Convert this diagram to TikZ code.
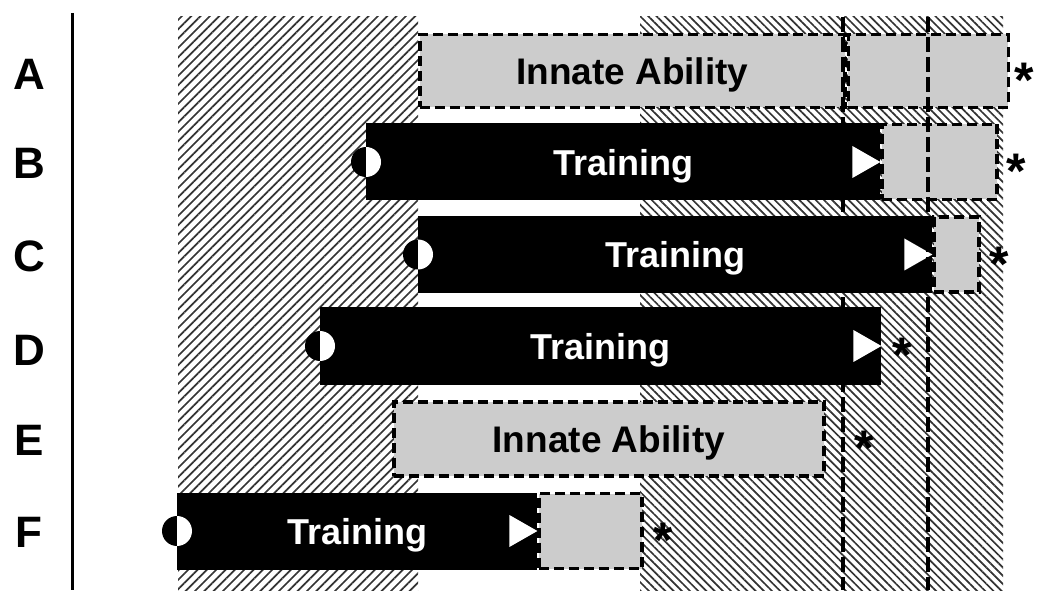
\documentclass[tikz,border=0pt]{standalone}
\usepackage{fontspec}
\setmainfont{Liberation Sans}
\usetikzlibrary{positioning,patterns.meta,backgrounds}

\tikzset{
  trainbar/.style={fill=black, text=white, font=\fontsize{36}{40}\selectfont\bfseries,
    inner sep=0pt, text depth=0pt, minimum height=77pt, anchor=west},
  innatebox/.style={fill=gray!40, draw=black, line width=3.6pt, dash pattern=on 10pt off 5pt,
    font=\fontsize{37}{40}\selectfont\bfseries, inner sep=0pt, text depth=0pt, minimum height=74pt, anchor=west},
  rowlabel/.style={font=\fontsize{44}{44}\selectfont\bfseries, inner sep=0pt},
  astx/.style={font=\fontsize{50}{50}\selectfont\bfseries, inner sep=0pt, yshift=-9.5pt},
  halo/.style={fill=white},
  cutline/.style={line width=3.2pt, dash pattern=on 15pt off 5pt},
  leftlines/.style={pattern={Lines[angle=45,distance=6.6pt,line width=1.7pt]}, pattern color=black!80},
  rightlines/.style={pattern={Lines[angle=-45,distance=5.8pt,line width=1.7pt]}, pattern color=black!80},
}

\begin{document}
\begin{tikzpicture}[x=1pt,y=1pt]
  \useasboundingbox (0,0) rectangle (1037,590);

  % Hatched areas
  \fill[leftlines] (178,0) rectangle (418,573);
  \fill[rightlines] (640,0) rectangle (1003,573);

  % Axis
  \coordinate (axTop) at (72,577);
  \coordinate (axBot) at (72,0);
  \draw[line width=3pt] (axTop) -- (axBot);

  % Labels
  \node[rowlabel] (labA) at (29,516) {A};
  \node[rowlabel] (labB) at (29,427) {B};
  \node[rowlabel] (labC) at (29,334) {C};
  \node[rowlabel] (labD) at (29,240) {D};
  \node[rowlabel] (labE) at (29,150) {E};
  \node[rowlabel] (labF) at (29,58) {F};

  %%%%%%%%%%%%%%%%%%%%%%%%%%
  % Row A
  \node[innatebox, minimum width=425pt, minimum height=73pt] (innA) at (418,519) {Innate Ability};
  \node[innatebox, minimum width=160pt, minimum height=73pt] (extA) at (innA.east) {};
  \node[astx, right=4pt of extA] (astA) {*};

  %%%%%%%%%%%%%%%%%%%%%%%%%%
  % Row B
  \node[trainbar, minimum width=514pt] (trnB) at (366,428) {Training};
  \node[innatebox, minimum width=115pt, minimum height=75pt] (extB) at (trnB.east) {};
  \fill[black] (trnB.west) ++(0,15) arc[start angle=90, end angle=270, radius=15] -- cycle;
  \fill[white] (trnB.west) ++(0,-15) arc[start angle=-90, end angle=90, radius=15] -- cycle;
  \fill[white] (trnB.east) -- ++(-28,16) -- ++(0,-32) -- cycle;
  \node[astx, right=7pt of extB] (astB) {*};

  %%%%%%%%%%%%%%%%%%%%%%%%%%
  % Row C
  \node[trainbar, minimum width=514pt] (trnC) at (418,335.5) {Training};
  \node[innatebox, minimum width=45pt, minimum height=75pt] (extC) at (trnC.east) {};
  \fill[black] (trnC.west) ++(0,15) arc[start angle=90, end angle=270, radius=15] -- cycle;
  \fill[white] (trnC.west) ++(0,-15) arc[start angle=-90, end angle=90, radius=15] -- cycle;
  \fill[white] (trnC.east) -- ++(-28,16) -- ++(0,-32) -- cycle;
  \node[astx, right=8pt of extC] (astC) {*};

  %%%%%%%%%%%%%%%%%%%%%%%%%%
  % Row D
  \node[trainbar, minimum width=561pt, minimum height=78pt] (trnD) at (320,244) {Training};
  \fill[black] (trnD.west) ++(0,15) arc[start angle=90, end angle=270, radius=15] -- cycle;
  \fill[white] (trnD.west) ++(0,-15) arc[start angle=-90, end angle=90, radius=15] -- cycle;
  \fill[white] (trnD.east) -- ++(-28,16) -- ++(0,-32) -- cycle;
  \node[astx, right=11pt of trnD] (astD) {*};

  %%%%%%%%%%%%%%%%%%%%%%%%%%
  % Row E
  \node[innatebox, minimum width=430pt] (innE) at (392,151) {Innate Ability};
  \node[astx, right=29pt of innE] (astE) {*};

  %%%%%%%%%%%%%%%%%%%%%%%%%%
  % Row F
  \node[trainbar, minimum width=360pt] (trnF) at (177,59) {Training};
  \node[innatebox, minimum width=103pt, minimum height=75pt] (extF) at (trnF.east) {};
  \fill[black] (trnF.west) ++(0,15) arc[start angle=90, end angle=270, radius=15] -- cycle;
  \fill[white] (trnF.west) ++(0,-15) arc[start angle=-90, end angle=90, radius=15] -- cycle;
  \fill[white] (trnF.east) -- ++(-28,16) -- ++(0,-32) -- cycle;
  \node[astx, right=9pt of extF] (astF) {*};

  % White margins round the bars
  \begin{scope}[on background layer]
    \fill[halo] ([shift={(-4,4)}]innA.north west) rectangle ([shift={(4,-4)}]extA.south east);
    \fill[halo] ([shift={(-4,4)}]trnB.north west) rectangle ([shift={(4,-4)}]extB.south east);
    \fill[halo] ([shift={(-4,4)}]trnC.north west) rectangle ([shift={(4,-4)}]extC.south east);
    \fill[halo] ([shift={(-4,4)}]trnD.north west) rectangle ([shift={(4,-4)}]trnD.south east);
    \fill[halo] ([shift={(-4,4)}]innE.north west) rectangle ([shift={(4,-4)}]innE.south east);
    \fill[halo] ([shift={(-4,4)}]trnF.north west) rectangle ([shift={(4,-4)}]extF.south east);
  \end{scope}

  % Lines
  \coordinate (cutOneTop) at (843,573);
  \coordinate (cutOneBot) at (843,0);
  \coordinate (cutTwoTop) at (928,573);
  \coordinate (cutTwoBot) at (928,0);
  \draw[cutline] (cutOneTop) -- (cutOneBot);
  \draw[cutline] (cutTwoTop) -- (cutTwoBot);
\end{tikzpicture}
\end{document}
